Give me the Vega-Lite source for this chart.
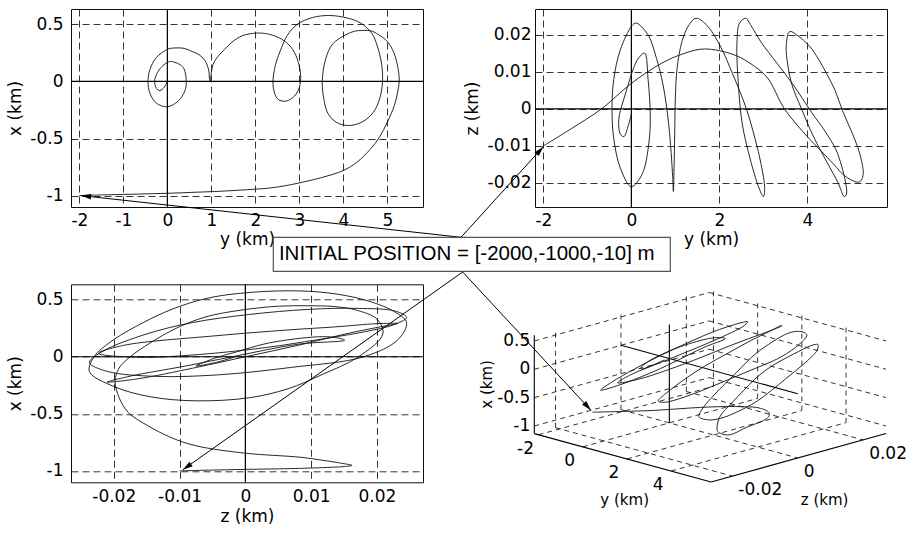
{
  "$schema": "https://vega.github.io/schema/vega-lite/v6.json",
  "background": "white",
  "padding": {"left": 6, "top": 7, "right": 5, "bottom": 5},
  "config": {
    "locale": {"number": {"decimal": ".", "thousands": ",", "grouping": [3], "currency": ["$", ""], "minus": "-"}},
    "font": "DejaVu Sans",
    "view": {"stroke": "#111", "strokeWidth": 1},
    "axis": {"grid": true, "gridColor": "#000", "gridDash": [7, 4], "gridWidth": 0.8, "gridOpacity": 1, "domain": false, "ticks": false, "tickSize": 0, "labelFontSize": 17, "labelColor": "#000", "labelFlush": false, "labelOverlap": false, "labelBound": false, "titleFontSize": 17, "titleFontWeight": "normal", "titleColor": "#000", "labelFont": "DejaVu Sans", "titleFont": "DejaVu Sans"}
  },
  "datasets": {
    "traj": [
      {"t": 0, "y": -2.0, "x": -1.0, "z": -0.01},
      {"t": 1, "y": -1.36, "x": -0.993, "z": -0.0053},
      {"t": 2, "y": -0.68, "x": -0.987, "z": 0.0},
      {"t": 3, "y": 0.0, "x": -0.98, "z": 0.0069},
      {"t": 4, "y": 0.68, "x": -0.97, "z": 0.0123},
      {"t": 5, "y": 1.2, "x": -0.962, "z": 0.015},
      {"t": 6, "y": 1.66, "x": -0.952, "z": 0.0162},
      {"t": 7, "y": 2.34, "x": -0.933, "z": 0.0146},
      {"t": 8, "y": 2.8, "x": -0.905, "z": 0.0115},
      {"t": 9, "y": 3.1, "x": -0.88, "z": 0.0083},
      {"t": 10, "y": 3.48, "x": -0.845, "z": 0.0},
      {"t": 11, "y": 4.0, "x": -0.78, "z": -0.0075},
      {"t": 12, "y": 4.3, "x": -0.71, "z": -0.0112},
      {"t": 13, "y": 4.61, "x": -0.595, "z": -0.0151},
      {"t": 14, "y": 4.82, "x": -0.488, "z": -0.0178},
      {"t": 15, "y": 5.0, "x": -0.356, "z": -0.0192},
      {"t": 16, "y": 5.16, "x": -0.21, "z": -0.0198},
      {"t": 17, "y": 5.23, "x": -0.1, "z": -0.0192},
      {"t": 18, "y": 5.27, "x": 0.0, "z": -0.0175},
      {"t": 19, "y": 5.24, "x": 0.12, "z": -0.0145},
      {"t": 20, "y": 5.15, "x": 0.25, "z": -0.0105},
      {"t": 21, "y": 5.0, "x": 0.35, "z": -0.006},
      {"t": 22, "y": 4.8, "x": 0.41, "z": -0.0005},
      {"t": 23, "y": 4.63, "x": 0.443, "z": 0.005},
      {"t": 24, "y": 4.44, "x": 0.447, "z": 0.0095},
      {"t": 25, "y": 4.25, "x": 0.44, "z": 0.0135},
      {"t": 26, "y": 4.06, "x": 0.41, "z": 0.0168},
      {"t": 27, "y": 3.76, "x": 0.33, "z": 0.02},
      {"t": 28, "y": 3.6, "x": 0.2, "z": 0.0209},
      {"t": 29, "y": 3.52, "x": 0.0, "z": 0.0172},
      {"t": 30, "y": 3.56, "x": -0.16, "z": 0.0115},
      {"t": 31, "y": 3.65, "x": -0.28, "z": 0.0065},
      {"t": 32, "y": 3.85, "x": -0.36, "z": 0.0005},
      {"t": 33, "y": 4.14, "x": -0.386, "z": -0.0075},
      {"t": 34, "y": 4.45, "x": -0.35, "z": -0.0145},
      {"t": 35, "y": 4.7, "x": -0.26, "z": -0.02},
      {"t": 36, "y": 4.84, "x": -0.13, "z": -0.0237},
      {"t": 37, "y": 4.89, "x": 0.0, "z": -0.023},
      {"t": 38, "y": 4.87, "x": 0.15, "z": -0.02},
      {"t": 39, "y": 4.78, "x": 0.3, "z": -0.0155},
      {"t": 40, "y": 4.65, "x": 0.42, "z": -0.011},
      {"t": 41, "y": 4.4, "x": 0.51, "z": -0.006},
      {"t": 42, "y": 4.1, "x": 0.555, "z": -0.001},
      {"t": 43, "y": 3.68, "x": 0.578, "z": 0.0065},
      {"t": 44, "y": 3.3, "x": 0.56, "z": 0.0125},
      {"t": 45, "y": 2.95, "x": 0.5, "z": 0.018},
      {"t": 46, "y": 2.72, "x": 0.4, "z": 0.0225},
      {"t": 47, "y": 2.6, "x": 0.3, "z": 0.0245},
      {"t": 48, "y": 2.46, "x": 0.15, "z": 0.0232},
      {"t": 49, "y": 2.4, "x": 0.0, "z": 0.018},
      {"t": 50, "y": 2.43, "x": -0.093, "z": 0.007},
      {"t": 51, "y": 2.52, "x": -0.158, "z": -0.004},
      {"t": 52, "y": 2.7, "x": -0.172, "z": -0.0135},
      {"t": 53, "y": 2.89, "x": -0.128, "z": -0.021},
      {"t": 54, "y": 3.0, "x": -0.05, "z": -0.0237},
      {"t": 55, "y": 3.03, "x": 0.053, "z": -0.0215},
      {"t": 56, "y": 2.95, "x": 0.2, "z": -0.015},
      {"t": 57, "y": 2.81, "x": 0.3, "z": -0.008},
      {"t": 58, "y": 2.6, "x": 0.37, "z": 0.0005},
      {"t": 59, "y": 2.3, "x": 0.415, "z": 0.0095},
      {"t": 60, "y": 2.02, "x": 0.424, "z": 0.017},
      {"t": 61, "y": 1.7, "x": 0.4, "z": 0.0228},
      {"t": 62, "y": 1.47, "x": 0.345, "z": 0.0245},
      {"t": 63, "y": 1.3, "x": 0.28, "z": 0.0225},
      {"t": 64, "y": 1.15, "x": 0.22, "z": 0.0182},
      {"t": 65, "y": 1.04, "x": 0.15, "z": 0.011},
      {"t": 66, "y": 1.0, "x": 0.08, "z": 0.003},
      {"t": 67, "y": 0.985, "x": 0.02, "z": -0.007},
      {"t": 68, "y": 0.97, "x": -0.005, "z": -0.016},
      {"t": 69, "y": 0.955, "x": 0.03, "z": -0.0223},
      {"t": 70, "y": 0.94, "x": 0.1, "z": -0.0185},
      {"t": 71, "y": 0.85, "x": 0.185, "z": -0.0043},
      {"t": 72, "y": 0.72, "x": 0.235, "z": 0.0065},
      {"t": 73, "y": 0.57, "x": 0.262, "z": 0.0137},
      {"t": 74, "y": 0.38, "x": 0.29, "z": 0.02},
      {"t": 75, "y": 0.11, "x": 0.292, "z": 0.0232},
      {"t": 76, "y": 0.015, "x": 0.284, "z": 0.0225},
      {"t": 77, "y": -0.25, "x": 0.21, "z": 0.016},
      {"t": 78, "y": -0.4, "x": 0.1, "z": 0.008},
      {"t": 79, "y": -0.44, "x": 0.0, "z": 0.0},
      {"t": 80, "y": -0.4, "x": -0.1, "z": -0.008},
      {"t": 81, "y": -0.25, "x": -0.19, "z": -0.016},
      {"t": 82, "y": 0.0, "x": -0.222, "z": -0.021},
      {"t": 83, "y": 0.25, "x": -0.17, "z": -0.0175},
      {"t": 84, "y": 0.4, "x": -0.08, "z": -0.009},
      {"t": 85, "y": 0.43, "x": 0.0, "z": -0.002},
      {"t": 86, "y": 0.38, "x": 0.11, "z": 0.008},
      {"t": 87, "y": 0.3, "x": 0.145, "z": 0.0151},
      {"t": 88, "y": 0.15, "x": 0.17, "z": 0.0135},
      {"t": 89, "y": 0.05, "x": 0.175, "z": 0.011},
      {"t": 90, "y": -0.15, "x": 0.12, "z": 0.0035},
      {"t": 91, "y": -0.27, "x": 0.04, "z": -0.0015},
      {"t": 92, "y": -0.29, "x": 0.0, "z": -0.004},
      {"t": 93, "y": -0.25, "x": -0.06, "z": -0.0068},
      {"t": 94, "y": -0.17, "x": -0.08, "z": -0.0075},
      {"t": 95, "y": -0.07, "x": -0.05, "z": -0.0045},
      {"t": 96, "y": 0.0, "x": 0.0, "z": -0.0015}
    ],
    "grid3d": [
      {"ya": -2, "za": -0.0265, "xa": -1.134, "yb": -2, "zb": 0.027, "xb": -1.134},
      {"ya": 0, "za": -0.0265, "xa": -1.134, "yb": 0, "zb": 0.027, "xb": -1.134},
      {"ya": 2, "za": -0.0265, "xa": -1.134, "yb": 2, "zb": 0.027, "xb": -1.134},
      {"ya": 4, "za": -0.0265, "xa": -1.134, "yb": 4, "zb": 0.027, "xb": -1.134},
      {"ya": -2.19, "za": -0.02, "xa": -1.134, "yb": 5.81, "zb": -0.02, "xb": -1.134},
      {"ya": -2.19, "za": 0, "xa": -1.134, "yb": 5.81, "zb": 0, "xb": -1.134},
      {"ya": -2.19, "za": 0.02, "xa": -1.134, "yb": 5.81, "zb": 0.02, "xb": -1.134},
      {"ya": -2.19, "za": -0.0265, "xa": -1, "yb": -2.19, "zb": 0.027, "xb": -1},
      {"ya": -2.19, "za": -0.0265, "xa": -0.5, "yb": -2.19, "zb": 0.027, "xb": -0.5},
      {"ya": -2.19, "za": -0.0265, "xa": 0, "yb": -2.19, "zb": 0.027, "xb": 0},
      {"ya": -2.19, "za": -0.0265, "xa": 0.5, "yb": -2.19, "zb": 0.027, "xb": 0.5},
      {"ya": -2.19, "za": -0.02, "xa": -1.134, "yb": -2.19, "zb": -0.02, "xb": 0.6},
      {"ya": -2.19, "za": 0, "xa": -1.134, "yb": -2.19, "zb": 0, "xb": 0.6},
      {"ya": -2.19, "za": 0.02, "xa": -1.134, "yb": -2.19, "zb": 0.02, "xb": 0.6},
      {"ya": -2.19, "za": 0.027, "xa": -1, "yb": 5.81, "zb": 0.027, "xb": -1},
      {"ya": -2.19, "za": 0.027, "xa": -0.5, "yb": 5.81, "zb": 0.027, "xb": -0.5},
      {"ya": -2.19, "za": 0.027, "xa": 0, "yb": 5.81, "zb": 0.027, "xb": 0},
      {"ya": -2.19, "za": 0.027, "xa": 0.5, "yb": 5.81, "zb": 0.027, "xb": 0.5},
      {"ya": -2, "za": 0.027, "xa": -1.134, "yb": -2, "zb": 0.027, "xb": 0.6},
      {"ya": 0, "za": 0.027, "xa": -1.134, "yb": 0, "zb": 0.027, "xb": 0.6},
      {"ya": 2, "za": 0.027, "xa": -1.134, "yb": 2, "zb": 0.027, "xb": 0.6},
      {"ya": 4, "za": 0.027, "xa": -1.134, "yb": 4, "zb": 0.027, "xb": 0.6}
    ],
    "axes3d": [
      {"ya": -2.19, "za": -0.0265, "xa": -1.134, "yb": -2.19, "zb": -0.0265, "xb": 0.6},
      {"ya": -2.19, "za": -0.0265, "xa": -1.134, "yb": 5.81, "zb": -0.0265, "xb": -1.134},
      {"ya": 5.81, "za": -0.0265, "xa": -1.134, "yb": 5.81, "zb": 0.027, "xb": -1.134},
      {"ya": 0, "za": 0, "xa": -1.134, "yb": 0, "zb": 0, "xb": 0.6},
      {"ya": -2.19, "za": 0, "xa": 0, "yb": 5.81, "zb": 0, "xb": 0}
    ],
    "labels3d": [
      {"kind": "x", "y": -2.19, "z": -0.0265, "x": 0.5, "label": "0.5"},
      {"kind": "x", "y": -2.19, "z": -0.0265, "x": 0, "label": "0"},
      {"kind": "x", "y": -2.19, "z": -0.0265, "x": -0.5, "label": "-0.5"},
      {"kind": "x", "y": -2.19, "z": -0.0265, "x": -1, "label": "-1"},
      {"kind": "y", "y": -2, "z": -0.0265, "x": -1.134, "label": "-2"},
      {"kind": "y", "y": 0, "z": -0.0265, "x": -1.134, "label": "0"},
      {"kind": "y", "y": 2, "z": -0.0265, "x": -1.134, "label": "2"},
      {"kind": "y", "y": 4, "z": -0.0265, "x": -1.134, "label": "4"},
      {"kind": "z", "y": 5.81, "z": -0.02, "x": -1.134, "label": "-0.02"},
      {"kind": "z", "y": 5.81, "z": 0, "x": -1.134, "label": "0"},
      {"kind": "z", "y": 5.81, "z": 0.02, "x": -1.134, "label": "0.02"},
      {"kind": "tx", "y": -2.19, "z": -0.0265, "x": -0.267, "label": "x (km)"},
      {"kind": "ty", "y": 1.81, "z": -0.0265, "x": -1.134, "label": "y (km)"},
      {"kind": "tz", "y": 5.81, "z": 0.00025, "x": -1.134, "label": "z (km)"}
    ]
  },
  "bounds": "flush",
  "spacing": 275.3,
  "vconcat": [
    {
      "bounds": "flush",
      "spacing": 112,
      "hconcat": [
        {
          "width": 352,
          "height": 198,
          "layer": [
            {"data": {"values": [{"y": 0}]}, "mark": {"type": "rule", "color": "#000", "strokeWidth": 1.2}, "encoding": {"x": {"field": "y", "type": "quantitative"}}},
            {"data": {"values": [{"x": 0}]}, "mark": {"type": "rule", "color": "#000", "strokeWidth": 1.2}, "encoding": {"y": {"field": "x", "type": "quantitative"}}},
            {
              "data": {"name": "traj"},
              "mark": {"type": "line", "color": "#111", "strokeWidth": 0.9, "interpolate": "catmull-rom"},
              "encoding": {
                "x": {"field": "y", "type": "quantitative", "scale": {"domain": [-2.19, 5.81], "nice": false, "zero": false}, "axis": {"title": "y (km)", "values": [-2, -1, 0, 1, 2, 3, 4, 5], "format": "~g", "labelPadding": 5, "titlePadding": 3}},
                "y": {"field": "x", "type": "quantitative", "scale": {"domain": [-1.1, 0.635], "nice": false, "zero": false}, "axis": {"title": "x (km)", "values": [-1, -0.5, 0, 0.5], "format": "~g", "labelPadding": 8, "titlePadding": 5}},
                "order": {"field": "t", "type": "quantitative"}
              }
            },
            {
              "data": {"values": [{"y": 6.674, "x": -1.3655, "y_end": -1.96, "x_end": -1.0}]},
              "mark": {"type": "rule", "color": "#000", "strokeWidth": 1},
              "encoding": {"x": {"field": "y", "type": "quantitative"}, "y": {"field": "x", "type": "quantitative"}, "x2": {"field": "y_end"}, "y2": {"field": "x_end"}}
            },
            {
              "data": {"values": [{"y": -1.96, "x": -1.0}]},
              "mark": {"type": "point", "shape": "M0,0L-0.55,2L0.55,2Z", "filled": true, "color": "#000", "opacity": 1, "size": 100, "angle": 276.2},
              "encoding": {"x": {"field": "y", "type": "quantitative"}, "y": {"field": "x", "type": "quantitative"}}
            },
            {
              "data": {"values": [{"y": 2.408, "y_end": 11.43, "x": -1.3655, "x_end": -1.6634}]},
              "mark": {"type": "rect", "fill": "#fff", "stroke": "#555", "strokeWidth": 1.2},
              "encoding": {"x": {"field": "y", "type": "quantitative"}, "x2": {"field": "y_end"}, "y": {"field": "x", "type": "quantitative"}, "y2": {"field": "x_end"}}
            },
            {
              "data": {"values": [{"y": 6.805, "x": -1.5145, "label": "INITIAL POSITION = [-2000,-1000,-10] m"}]},
              "mark": {"type": "text", "fontSize": 20.5, "font": "Liberation Sans", "align": "center", "baseline": "middle", "color": "#000"},
              "encoding": {"x": {"field": "y", "type": "quantitative"}, "y": {"field": "x", "type": "quantitative"}, "text": {"field": "label"}}
            }
          ]
        },
        {
          "width": 352,
          "height": 198,
          "layer": [
            {"data": {"values": [{"y": 0}]}, "mark": {"type": "rule", "color": "#000", "strokeWidth": 1.2}, "encoding": {"x": {"field": "y", "type": "quantitative"}}},
            {"data": {"values": [{"z": 0}]}, "mark": {"type": "rule", "color": "#000", "strokeWidth": 1.2}, "encoding": {"y": {"field": "z", "type": "quantitative"}}},
            {
              "data": {"name": "traj"},
              "mark": {"type": "line", "color": "#111", "strokeWidth": 0.9, "interpolate": "catmull-rom"},
              "encoding": {
                "x": {"field": "y", "type": "quantitative", "scale": {"domain": [-2.19, 5.81], "nice": false, "zero": false}, "axis": {"title": "y (km)", "values": [-2, 0, 2, 4], "format": "~g", "labelPadding": 5, "titlePadding": 3}},
                "y": {"field": "z", "type": "quantitative", "scale": {"domain": [-0.0265, 0.027], "nice": false, "zero": false}, "axis": {"title": "z (km)", "values": [-0.02, -0.01, 0, 0.01, 0.02], "format": "~g", "labelPadding": 4, "titlePadding": 6}},
                "order": {"field": "t", "type": "quantitative"}
              }
            },
            {
              "data": {"values": [{"y": -3.872, "z": -0.03469, "y_end": -2.0, "z_end": -0.0102}]},
              "mark": {"type": "rule", "color": "#000", "strokeWidth": 1},
              "encoding": {"x": {"field": "y", "type": "quantitative"}, "y": {"field": "z", "type": "quantitative"}, "x2": {"field": "y_end"}, "y2": {"field": "z_end"}}
            },
            {
              "data": {"values": [{"y": -2.0, "z": -0.0102}]},
              "mark": {"type": "point", "shape": "M0,0L-0.55,2L0.55,2Z", "filled": true, "color": "#000", "opacity": 1, "size": 100, "angle": 41.9},
              "encoding": {"x": {"field": "y", "type": "quantitative"}, "y": {"field": "z", "type": "quantitative"}}
            }
          ]
        }
      ]
    },
    {
      "bounds": "flush",
      "spacing": 48,
      "hconcat": [
        {
          "width": 352,
          "height": 198,
          "layer": [
            {"data": {"values": [{"z": 0}]}, "mark": {"type": "rule", "color": "#000", "strokeWidth": 1.2}, "encoding": {"x": {"field": "z", "type": "quantitative"}}},
            {"data": {"values": [{"x": 0}]}, "mark": {"type": "rule", "color": "#000", "strokeWidth": 1.2}, "encoding": {"y": {"field": "x", "type": "quantitative"}}},
            {
              "data": {"name": "traj"},
              "mark": {"type": "line", "color": "#111", "strokeWidth": 0.9, "interpolate": "catmull-rom"},
              "encoding": {
                "x": {"field": "z", "type": "quantitative", "scale": {"domain": [-0.0265, 0.027], "nice": false, "zero": false}, "axis": {"title": "z (km)", "values": [-0.02, -0.01, 0, 0.01, 0.02], "format": "~g", "labelPadding": 6, "titlePadding": 4}},
                "y": {"field": "x", "type": "quantitative", "scale": {"domain": [-1.1, 0.635], "nice": false, "zero": false}, "axis": {"title": "x (km)", "values": [-1, -0.5, 0, 0.5], "format": "~g", "labelPadding": 8, "titlePadding": 5}},
                "order": {"field": "t", "type": "quantitative"}
              }
            },
            {
              "data": {"values": [{"z": 0.03303, "x": 0.7428, "z_end": -0.0095, "x_end": -0.99}, {"z": 0.03303, "x": 0.7428, "z_end": 0.05253, "x_end": -0.4691}]},
              "mark": {"type": "rule", "color": "#000", "strokeWidth": 1},
              "encoding": {"x": {"field": "z", "type": "quantitative"}, "y": {"field": "x", "type": "quantitative"}, "x2": {"field": "z_end"}, "y2": {"field": "x_end"}}
            },
            {
              "data": {"values": [{"z": -0.0095, "x": -0.99}]},
              "mark": {"type": "point", "shape": "M0,0L-0.55,2L0.55,2Z", "filled": true, "color": "#000", "opacity": 1, "size": 100, "angle": 234.8},
              "encoding": {"x": {"field": "z", "type": "quantitative"}, "y": {"field": "x", "type": "quantitative"}}
            },
            {
              "data": {"values": [{"z": 0.05253, "x": -0.4691}]},
              "mark": {"type": "point", "shape": "M0,0L-0.55,2L0.55,2Z", "filled": true, "color": "#000", "opacity": 1, "size": 100, "angle": 137.1},
              "encoding": {"x": {"field": "z", "type": "quantitative"}, "y": {"field": "x", "type": "quantitative"}}
            }
          ]
        },
        {
          "width": 440,
          "height": 250,
          "view": {"stroke": null},
          "layer": [
            {
              "data": {"name": "grid3d"},
              "transform": [
                {"calculate": "22.1*(datum.ya+2.19)+3270*(datum.za+0.0265)", "as": "u1"},
                {"calculate": "6.05*(datum.ya+2.19)-905*(datum.za+0.0265)-56.7*(datum.xa+1.134)", "as": "v1"},
                {"calculate": "22.1*(datum.yb+2.19)+3270*(datum.zb+0.0265)", "as": "u2"},
                {"calculate": "6.05*(datum.yb+2.19)-905*(datum.zb+0.0265)-56.7*(datum.xb+1.134)", "as": "v2"}
              ],
              "mark": {"type": "rule", "color": "#000", "strokeWidth": 0.8, "strokeDash": [5, 4]},
              "encoding": {
                "x": {"field": "u1", "type": "quantitative", "scale": {"domain": [-63.3, 376.7], "nice": false, "zero": false}, "axis": null},
                "y": {"field": "v1", "type": "quantitative", "scale": {"domain": [-149.3, 100.7], "nice": false, "zero": false, "reverse": true}, "axis": null},
                "x2": {"field": "u2"},
                "y2": {"field": "v2"}
              }
            },
            {
              "data": {"name": "axes3d"},
              "transform": [
                {"calculate": "22.1*(datum.ya+2.19)+3270*(datum.za+0.0265)", "as": "u1"},
                {"calculate": "6.05*(datum.ya+2.19)-905*(datum.za+0.0265)-56.7*(datum.xa+1.134)", "as": "v1"},
                {"calculate": "22.1*(datum.yb+2.19)+3270*(datum.zb+0.0265)", "as": "u2"},
                {"calculate": "6.05*(datum.yb+2.19)-905*(datum.zb+0.0265)-56.7*(datum.xb+1.134)", "as": "v2"}
              ],
              "mark": {"type": "rule", "color": "#000", "strokeWidth": 1.1},
              "encoding": {
                "x": {"field": "u1", "type": "quantitative", "scale": {"domain": [-63.3, 376.7], "nice": false, "zero": false}, "axis": null},
                "y": {"field": "v1", "type": "quantitative", "scale": {"domain": [-149.3, 100.7], "nice": false, "zero": false, "reverse": true}, "axis": null},
                "x2": {"field": "u2"},
                "y2": {"field": "v2"}
              }
            },
            {
              "data": {"name": "traj"},
              "transform": [
                {"calculate": "22.1*(datum.y+2.19)+3270*(datum.z+0.0265)", "as": "u"},
                {"calculate": "6.05*(datum.y+2.19)-905*(datum.z+0.0265)-56.7*(datum.x+1.134)", "as": "v"}
              ],
              "mark": {"type": "line", "color": "#111", "strokeWidth": 0.9, "interpolate": "catmull-rom"},
              "encoding": {
                "x": {"field": "u", "type": "quantitative", "scale": {"domain": [-63.3, 376.7], "nice": false, "zero": false}, "axis": null},
                "y": {"field": "v", "type": "quantitative", "scale": {"domain": [-149.3, 100.7], "nice": false, "zero": false, "reverse": true}, "axis": null},
                "order": {"field": "t", "type": "quantitative"}
              }
            },
            {
              "data": {"name": "labels3d"},
              "transform": [
                {"filter": "datum.kind == 'x'"},
                {"calculate": "22.1*(datum.y+2.19)+3270*(datum.z+0.0265)", "as": "u"},
                {"calculate": "6.05*(datum.y+2.19)-905*(datum.z+0.0265)-56.7*(datum.x+1.134)", "as": "v"}
              ],
              "mark": {"type": "text", "align": "right", "baseline": "middle", "dx": -4, "fontSize": 17, "font": "DejaVu Sans", "color": "#000"},
              "encoding": {
                "x": {"field": "u", "type": "quantitative", "scale": {"domain": [-63.3, 376.7], "nice": false, "zero": false}, "axis": null},
                "y": {"field": "v", "type": "quantitative", "scale": {"domain": [-149.3, 100.7], "nice": false, "zero": false, "reverse": true}, "axis": null},
                "text": {"field": "label"}
              }
            },
            {
              "data": {"name": "labels3d"},
              "transform": [
                {"filter": "datum.kind == 'y'"},
                {"calculate": "22.1*(datum.y+2.19)+3270*(datum.z+0.0265)", "as": "u"},
                {"calculate": "6.05*(datum.y+2.19)-905*(datum.z+0.0265)-56.7*(datum.x+1.134)", "as": "v"}
              ],
              "mark": {"type": "text", "align": "center", "baseline": "middle", "dx": -13, "dy": 14, "fontSize": 17, "font": "DejaVu Sans", "color": "#000"},
              "encoding": {
                "x": {"field": "u", "type": "quantitative", "scale": {"domain": [-63.3, 376.7], "nice": false, "zero": false}, "axis": null},
                "y": {"field": "v", "type": "quantitative", "scale": {"domain": [-149.3, 100.7], "nice": false, "zero": false, "reverse": true}, "axis": null},
                "text": {"field": "label"}
              }
            },
            {
              "data": {"name": "labels3d"},
              "transform": [
                {"filter": "datum.kind == 'z'"},
                {"calculate": "22.1*(datum.y+2.19)+3270*(datum.z+0.0265)", "as": "u"},
                {"calculate": "6.05*(datum.y+2.19)-905*(datum.z+0.0265)-56.7*(datum.x+1.134)", "as": "v"}
              ],
              "mark": {"type": "text", "align": "left", "baseline": "middle", "dx": 6, "dy": 14, "fontSize": 17, "font": "DejaVu Sans", "color": "#000"},
              "encoding": {
                "x": {"field": "u", "type": "quantitative", "scale": {"domain": [-63.3, 376.7], "nice": false, "zero": false}, "axis": null},
                "y": {"field": "v", "type": "quantitative", "scale": {"domain": [-149.3, 100.7], "nice": false, "zero": false, "reverse": true}, "axis": null},
                "text": {"field": "label"}
              }
            },
            {
              "data": {"name": "labels3d"},
              "transform": [
                {"filter": "datum.kind == 'tx'"},
                {"calculate": "22.1*(datum.y+2.19)+3270*(datum.z+0.0265)", "as": "u"},
                {"calculate": "6.05*(datum.y+2.19)-905*(datum.z+0.0265)-56.7*(datum.x+1.134)", "as": "v"}
              ],
              "mark": {"type": "text", "align": "center", "baseline": "middle", "angle": 270, "dy": -47, "fontSize": 15, "font": "DejaVu Sans", "color": "#000"},
              "encoding": {
                "x": {"field": "u", "type": "quantitative", "scale": {"domain": [-63.3, 376.7], "nice": false, "zero": false}, "axis": null},
                "y": {"field": "v", "type": "quantitative", "scale": {"domain": [-149.3, 100.7], "nice": false, "zero": false, "reverse": true}, "axis": null},
                "text": {"field": "label"}
              }
            },
            {
              "data": {"name": "labels3d"},
              "transform": [
                {"filter": "datum.kind == 'ty'"},
                {"calculate": "22.1*(datum.y+2.19)+3270*(datum.z+0.0265)", "as": "u"},
                {"calculate": "6.05*(datum.y+2.19)-905*(datum.z+0.0265)-56.7*(datum.x+1.134)", "as": "v"}
              ],
              "mark": {"type": "text", "align": "center", "baseline": "middle", "dx": 2, "dy": 42, "fontSize": 15, "font": "DejaVu Sans", "color": "#000"},
              "encoding": {
                "x": {"field": "u", "type": "quantitative", "scale": {"domain": [-63.3, 376.7], "nice": false, "zero": false}, "axis": null},
                "y": {"field": "v", "type": "quantitative", "scale": {"domain": [-149.3, 100.7], "nice": false, "zero": false, "reverse": true}, "axis": null},
                "text": {"field": "label"}
              }
            },
            {
              "data": {"name": "labels3d"},
              "transform": [
                {"filter": "datum.kind == 'tz'"},
                {"calculate": "22.1*(datum.y+2.19)+3270*(datum.z+0.0265)", "as": "u"},
                {"calculate": "6.05*(datum.y+2.19)-905*(datum.z+0.0265)-56.7*(datum.x+1.134)", "as": "v"}
              ],
              "mark": {"type": "text", "align": "center", "baseline": "middle", "dx": 26, "dy": 42, "fontSize": 15, "font": "DejaVu Sans", "color": "#000"},
              "encoding": {
                "x": {"field": "u", "type": "quantitative", "scale": {"domain": [-63.3, 376.7], "nice": false, "zero": false}, "axis": null},
                "y": {"field": "v", "type": "quantitative", "scale": {"domain": [-149.3, 100.7], "nice": false, "zero": false, "reverse": true}, "axis": null},
                "text": {"field": "label"}
              }
            }
          ]
        }
      ]
    }
  ]
}
